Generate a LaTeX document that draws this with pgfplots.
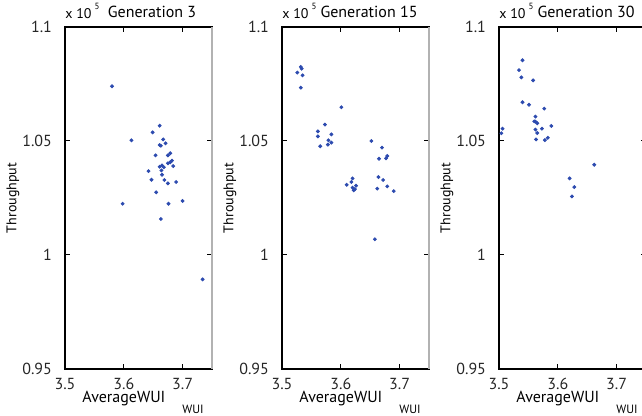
\documentclass[border=0pt]{standalone}
\usepackage{pgfplots}
\pgfplotsset{compat=1.18}
\usepackage{fontspec}
\setmainfont{PT Sans}
\definecolor{dotblue}{RGB}{45,75,175}
\newcommand\lab{\fontsize{8}{9.6}\selectfont}
\pgfplotsset{
  gen/.style={
    scale only axis, width=73.5pt, height=171pt,
    anchor=south west, clip=false,
    xmin=3.5, xmax=3.75, ymin=95000, ymax=110000,
    xtick={3.5,3.6,3.7}, xticklabels={3.5,3.6,3.7},
    ytick={95000,100000,105000,110000}, yticklabels={0.95,1,1.05,1.1},
    scaled y ticks=false, scaled x ticks=false,
    tick align=inside, major tick length=2.5pt,
    axis line style={black, line width=0.9pt},
    every tick/.style={black, line width=0.5pt},
    ticklabel style={font=\lab, text=black!85},
    xticklabel style={yshift=-1pt},
    yticklabel style={xshift=-3pt},
    /pgf/number format/assume math mode=true,
  },
  dots/.style={only marks, mark=*, mark size=0.75pt, color=dotblue, mark options={draw=dotblue, fill=dotblue}},
}
\newcommand\decor[1]{%
  \draw[gray!60, line width=0.9pt] (rel axis cs:1,0) -- (rel axis cs:1,1);
  \node[anchor=base west, inner sep=0, font=\fontsize{7}{8}\selectfont] at (rel axis cs:0,1.0234) {x 10\hspace{1.5pt}\raisebox{4.5pt}{\fontsize{4.5}{5}\selectfont 5}};
  \node[anchor=base, inner sep=0, font=\lab] at (rel axis cs:0.592,1.0263) {Generation #1};
  \node[anchor=base west, inner sep=0, font=\lab] at (rel axis cs:0.116,-0.0994) {AverageWUI};
  \node[anchor=base west, inner sep=0, font=\fontsize{6}{7}\selectfont] at (rel axis cs:0.796,-0.1287) {WUI};
  \node[anchor=center, rotate=90, inner sep=0, font=\fontsize{7}{8}\selectfont] at (rel axis cs:-0.354,0.5) {Throughput};
}
\begin{document}
\begin{tikzpicture}
\begin{axis}[gen, at={(32.5pt,23.5pt)}]
\addplot[dots] coordinates {
(3.580,107400) (3.661,105670) (3.649,105380) (3.613,105030) (3.667,105070)
(3.671,104900) (3.661,104820) (3.663,104790) (3.679,104460) (3.654,104370)
(3.675,104370) (3.682,104140) (3.679,104070) (3.675,104020) (3.665,103930)
(3.661,103870) (3.668,103850) (3.684,103900) (3.664,103710) (3.642,103680)
(3.665,103520) (3.647,103300) (3.669,103290) (3.689,103200) (3.675,103140)
(3.655,102750) (3.598,102250) (3.676,102250) (3.700,102370) (3.663,101580)
(3.734,98930)
};
\decor{3}
\end{axis}
\begin{axis}[gen, at={(141pt,23.5pt)}]
\addplot[dots] coordinates {
(3.532,108250) (3.5335,108170) (3.526,108000) (3.535,107880) (3.532,107340)
(3.601,106480) (3.573,105720) (3.561,105420) (3.584,105290) (3.561,105200)
(3.579,105030) (3.584,104930) (3.578,104840) (3.565,104770) (3.652,105000)
(3.670,104710) (3.665,104220) (3.679,104340) (3.677,104240) (3.620,103360)
(3.664,103420) (3.618,103200) (3.672,103290) (3.610,103080) (3.626,103040)
(3.620,102950) (3.624,102890) (3.622,102840) (3.679,103010) (3.662,102910)
(3.690,102800) (3.658,100690)
};
\decor{15}
\end{axis}
\begin{axis}[gen, at={(249.5pt,23.5pt)}]
\addplot[dots] coordinates {
(3.540,108540) (3.534,108110) (3.538,107790) (3.558,107660) (3.540,106700)
(3.551,106590) (3.577,106420) (3.562,106070) (3.560,105860) (3.562,105850)
(3.565,105780) (3.589,105660) (3.506,105540) (3.573,105540) (3.562,105500)
(3.504,105340) (3.565,105350) (3.583,105140) (3.563,105070) (3.578,105040)
(3.662,103960) (3.620,103360) (3.628,102980) (3.624,102570)
};
\decor{30}
\end{axis}
\pgfresetboundingbox
\useasboundingbox (0,0) rectangle (321pt,208pt);
\end{tikzpicture}
\end{document}
